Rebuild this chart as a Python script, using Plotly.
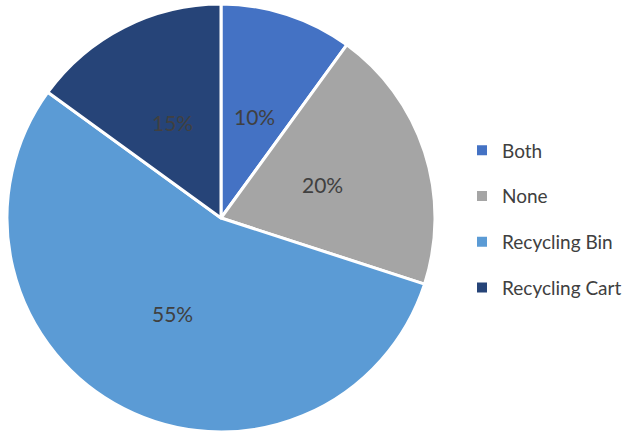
import math
import plotly.graph_objects as go

labels = ["Both", "None", "Recycling Bin", "Recycling Cart"]
values = [10, 20, 55, 15]
colors = ["#4472C4", "#A5A5A5", "#5B9BD5", "#264478"]

W, H = 639, 436
CX, CY, R = 221, 218, 214  # pie centre / radius in pixels

fig = go.Figure()
fig.add_trace(go.Pie(
    labels=labels, values=values, sort=False, direction="clockwise", rotation=0,
    marker=dict(colors=colors, line=dict(color="white", width=3)),
    textinfo="none", showlegend=False, hoverinfo="label+percent",
    domain=dict(x=[(CX - R) / W, (CX + R) / W], y=[1 - (CY + R) / H, 1 - (CY - R) / H]),
))

# data labels at half radius along each slice's mid-angle
total = sum(values)
cum = 0
for v in values:
    mid = (cum + v / 2) / total * 2 * math.pi
    cum += v
    px = CX + 0.5 * R * math.sin(mid)
    py = CY - 0.5 * R * math.cos(mid)
    fig.add_annotation(
        x=px / W, y=1 - py / H, xref="paper", yref="paper",
        xanchor="center", yanchor="middle",
        text=f"{round(v / total * 100)}%", showarrow=False,
        font=dict(family="Lato", size=21, color="#404040"),
    )

for lab, col in zip(labels, colors):
    fig.add_trace(go.Scatter(
        x=[None], y=[None], mode="markers", name=lab, legendgroup=lab,
        marker=dict(symbol="square", size=10, color=col),
    ))

fig.update_layout(
    width=W, height=H, margin=dict(l=0, r=0, t=0, b=0),
    paper_bgcolor="white", plot_bgcolor="white",
    xaxis=dict(visible=False), yaxis=dict(visible=False),
    legend=dict(x=462 / W, y=1 - 219 / H, xanchor="left", yanchor="middle",
                font=dict(family="Lato", size=19, color="#404040"),
                tracegroupgap=18, itemwidth=30),
    showlegend=True,
)
fig.write_html("out.html", config={"displayModeBar": False},
               post_script="document.body.style.margin='0px';")
